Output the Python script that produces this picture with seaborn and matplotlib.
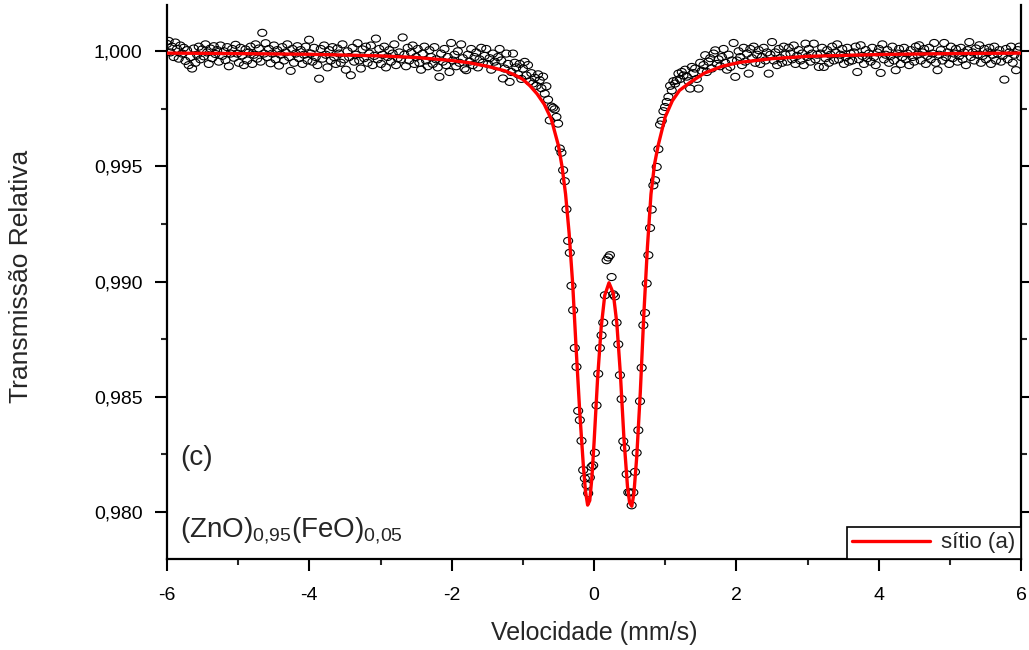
import numpy as np
import matplotlib
matplotlib.use("Agg")
import matplotlib.pyplot as plt
from matplotlib.ticker import MultipleLocator, FuncFormatter
from matplotlib.path import Path
from matplotlib.transforms import Affine2D
import seaborn as sns

# Relative transmission per channel (512 channels, -6 .. 6 mm/s)
wing_left = [
    1.00032, 1.00045, 0.99995, 1.00020, 0.99975, 1.00038, 1.00010, 0.99968, 1.00025, 0.99990,
    1.00015, 0.99958, 1.00005, 0.99940, 0.99975, 0.99925, 1.00012, 0.99950, 0.99985, 1.00020,
    0.99965, 1.00008, 0.99978, 1.00030, 0.99995, 0.99945, 1.00012, 0.99970, 1.00022, 0.99988,
    1.00005, 0.99955, 1.00025, 0.99980, 1.00000, 0.99962, 1.00018, 0.99935, 0.99990, 1.00010,
    0.99972, 1.00028, 0.99990, 0.99950, 1.00015, 0.99982, 0.99940, 1.00008, 0.99960, 0.99995,
    1.00020, 0.99945, 0.99985, 1.00030, 0.99968, 1.00012, 0.99955, 1.00080, 0.99990, 1.00035,
    0.99975, 1.00010, 0.99948, 0.99990, 1.00025, 0.99965, 1.00005, 0.99938, 0.99985, 1.00018,
    0.99960, 0.99995, 1.00030, 0.99975, 0.99915, 1.00010, 0.99950, 0.99990, 1.00022, 0.99970,
    1.00005, 0.99945, 0.99985, 1.00020, 0.99960, 1.00050, 0.99990, 0.99955, 1.00015, 0.99975,
    0.99940, 0.99881, 1.00010, 0.99968, 1.00025, 0.99985, 0.99930, 1.00005, 0.99960, 1.00018,
    0.99975, 0.99945, 1.00012, 0.99990, 0.99950, 1.00030, 0.99965, 0.99920, 1.00000, 0.99975,
    0.99896, 1.00015, 0.99955, 0.99985, 1.00035, 0.99960, 0.99925, 1.00008, 0.99970, 1.00020,
    0.99950, 0.99990, 1.00025, 0.99940, 0.99980, 1.00055, 0.99965, 1.00010, 0.99945, 0.99985,
    1.00020, 0.99930, 0.99975, 1.00005, 0.99955, 0.99990, 1.00030, 0.99940, 0.99970, 0.99995,
    0.99965, 1.00060, 0.99985, 0.99935, 1.00015, 0.99960, 0.99995, 1.00025, 0.99945, 0.99975,
    1.00010, 0.99950, 0.99920, 0.99990, 1.00020, 0.99960, 0.99935, 1.00005, 0.99975, 0.99945,
    1.00018, 0.99965, 0.99930, 0.99889, 0.99990, 0.99955, 1.00010, 0.99940, 0.99975, 0.99910,
    1.00036, 0.99960, 0.99985, 0.99935, 1.00000, 0.99950, 1.00030, 0.99970, 0.99925, 0.99918,
    0.99985, 0.99955, 1.00010, 0.99940, 0.99975, 0.99995, 0.99930, 0.99965, 1.00015, 0.99950,
    0.99980, 1.00010, 0.99945, 0.99970, 0.99920, 0.99990, 0.99955, 0.99935, 0.99975, 1.00010,
    0.99960, 0.99882, 0.99925, 0.99990, 0.99945, 0.99867, 0.99910, 0.99990, 0.99950, 0.99930,
    0.99900, 0.99945, 0.99880, 0.99925, 0.99954, 0.99895, 0.99940, 0.99870, 0.99905, 0.99860,
    0.99885, 0.99850, 0.99900, 0.99874, 0.99840, 0.99890,
]
absorption = [
    0.99816, 0.99848, 0.99790, 0.99700, 0.99760, 0.99755, 0.99748, 0.99715, 0.99686, 0.99578,
    0.99560, 0.99484, 0.99436, 0.99314, 0.99177, 0.99125, 0.98982, 0.98876, 0.98712, 0.98630,
    0.98439, 0.98399, 0.98309, 0.98182, 0.98146, 0.98117, 0.98081, 0.98150, 0.98196, 0.98203,
    0.98257, 0.98463, 0.98600, 0.98712, 0.98767, 0.98822, 0.98941, 0.99093, 0.99105, 0.99115,
    0.99020, 0.98945, 0.98936, 0.98822, 0.98728, 0.98594, 0.98490, 0.98307, 0.98278, 0.98164,
    0.98085, 0.98085, 0.98029, 0.98085, 0.98174, 0.98257, 0.98355, 0.98481, 0.98626, 0.98811,
    0.98864, 0.98992, 0.99115, 0.99233, 0.99313, 0.99418, 0.99440, 0.99498, 0.99575, 0.99682,
    0.99698, 0.99740, 0.99758, 0.99780, 0.99802, 0.99850, 0.99830, 0.99870, 0.99860, 0.99874,
    0.99903, 0.99880, 0.99910, 0.99895, 0.99920,
]
wing_right = [
    0.99890, 0.99870, 0.99838, 0.99932, 0.99905, 0.99925, 0.99880, 0.99838, 0.99950, 0.99915,
    0.99940, 0.99983, 0.99910, 0.99955, 0.99970, 0.99925, 0.99990, 1.00004, 0.99945, 0.99965,
    0.99935, 0.99975, 1.00010, 0.99950, 0.99920, 0.99985, 0.99932, 0.99960, 1.00036, 0.99889,
    0.99960, 1.00000, 0.99975, 0.99940, 1.00015, 0.99955, 0.99990, 0.99903, 1.00010, 0.99970,
    1.00020, 0.99950, 0.99985, 1.00005, 0.99945, 0.99975, 1.00015, 0.99960, 0.99995, 0.99903,
    0.99985, 1.00040, 0.99960, 0.99995, 0.99940, 1.00010, 0.99970, 0.99950, 1.00020, 0.99985,
    0.99955, 1.00015, 0.99990, 0.99965, 1.00025, 0.99945, 0.99980, 1.00005, 0.99960, 0.99990,
    0.99940, 1.00033, 0.99975, 1.00010, 0.99955, 0.99990, 1.00033, 0.99965, 0.99985, 0.99932,
    0.99990, 1.00015, 0.99932, 0.99970, 1.00005, 0.99950, 0.99985, 1.00020, 0.99960, 0.99995,
    1.00030, 0.99965, 0.99985, 1.00010, 0.99945, 0.99975, 1.00015, 0.99955, 0.99990, 0.99960,
    0.99995, 1.00020, 0.99910, 0.99965, 1.00026, 0.99980, 0.99945, 1.00005, 0.99970, 0.99990,
    0.99955, 1.00015, 0.99975, 0.99940, 0.99995, 1.00010, 0.99906, 1.00030, 0.99965, 0.99985,
    1.00005, 0.99950, 0.99980, 1.00020, 0.99960, 0.99918, 0.99990, 1.00010, 0.99945, 0.99975,
    1.00015, 0.99965, 0.99990, 0.99940, 1.00005, 0.99975, 0.99955, 1.00020, 0.99985, 1.00026,
    0.99960, 0.99995, 1.00010, 0.99945, 0.99980, 1.00015, 0.99965, 0.99990, 1.00036, 0.99950,
    0.99918, 0.99985, 1.00005, 0.99960, 1.00036, 0.99975, 0.99995, 0.99945, 1.00020, 0.99970,
    0.99990, 1.00010, 0.99955, 0.99980, 1.00015, 0.99965, 0.99995, 0.99940, 1.00005, 1.00040,
    0.99975, 0.99995, 0.99960, 1.00012, 0.99985, 1.00026, 0.99950, 0.99980, 1.00010, 0.99965,
    0.99995, 1.00015, 0.99945, 0.99985, 1.00020, 0.99960, 0.99990, 1.00005, 0.99955, 0.99980,
    0.99877, 1.00010, 0.99965, 0.99995, 1.00020, 0.99950, 0.99985, 0.99918, 1.00005, 1.00020,
    0.99975,
]

# Fitted quadrupole doublet, site (a)
fit_velocity = [
    -6.0, -5.0, -4.0, -3.0, -2.5, -2.0, -1.75, -1.5, -1.25, -1.1, -1.0, -0.9, -0.8, -0.7,
    -0.6, -0.5, -0.45, -0.4, -0.35, -0.3, -0.25, -0.2, -0.15, -0.12, -0.09, -0.06, -0.03,
    0.0, 0.05, 0.1, 0.15, 0.21, 0.27, 0.32, 0.37, 0.42, 0.47, 0.5, 0.53, 0.56, 0.6, 0.65,
    0.7, 0.75, 0.8, 0.85, 0.9, 1.0, 1.1, 1.2, 1.35, 1.55, 1.8, 2.05, 2.5, 3.0, 4.0, 5.0, 6.0,
]
fit_transmission = [
    0.99992, 0.99990, 0.99987, 0.99980, 0.99973, 0.99960, 0.99950, 0.99935, 0.99915, 0.99895,
    0.99878, 0.99850, 0.99815, 0.99770, 0.99705, 0.99590, 0.99500, 0.99380, 0.99210, 0.98990,
    0.98700, 0.98430, 0.98200, 0.98090, 0.98030, 0.98050, 0.98150, 0.98300, 0.98580, 0.98800,
    0.98940, 0.98995, 0.98950, 0.98820, 0.98600, 0.98320, 0.98110, 0.98040, 0.98025, 0.98080,
    0.98240, 0.98520, 0.98860, 0.99150, 0.99380, 0.99510, 0.99590, 0.99715, 0.99785, 0.99830,
    0.99865, 0.99905, 0.99935, 0.99952, 0.99968, 0.99978, 0.99986, 0.99990, 0.99992,
]

x_ticks = [-6, -4, -2, 0, 2, 4, 6]
y_ticks = [0.980, 0.985, 0.990, 0.995, 1.000]

sns.set_style("ticks")
plt.rcParams["font.family"] = ["Liberation Sans", "DejaVu Sans"]
plt.rcParams["mathtext.fontset"] = "custom"
plt.rcParams["mathtext.rm"] = "Liberation Sans"
plt.rcParams["mathtext.it"] = "Liberation Sans:italic"

transmission = np.array(wing_left + absorption + wing_right)
velocity = np.linspace(-6.0, 6.0, len(transmission))

# open marker, slightly wider than tall
oval = Path.unit_circle().transformed(Affine2D().scale(1.28, 1.0))

fig = plt.figure(figsize=(10.29, 6.5), dpi=100)
ax = fig.add_axes([0.1623, 0.14, 0.83, 0.852])

sns.scatterplot(x=velocity, y=transmission, ax=ax, marker=oval, s=42,
                facecolor="none", edgecolor="black", linewidth=0.8, zorder=2)
sns.lineplot(x=fit_velocity, y=fit_transmission, ax=ax, color="#ff0000",
             linewidth=2.4, sort=False, estimator=None, label="sítio (a)", zorder=3)

ax.set_xlim(-6, 6)
ax.set_ylim(0.97796, 1.002)
ax.set_xticks(x_ticks)
ax.set_yticks(y_ticks)
ax.xaxis.set_minor_locator(MultipleLocator(1))
ax.yaxis.set_minor_locator(MultipleLocator(0.0025))
ax.xaxis.set_major_formatter(FuncFormatter(lambda v, p: f"{v:.0f}"))
ax.yaxis.set_major_formatter(FuncFormatter(lambda v, p: f"{v:.3f}".replace(".", ",")))

ax.spines["top"].set_visible(False)
for side in ("left", "right", "bottom"):
    ax.spines[side].set_linewidth(1.6)
    ax.spines[side].set_color("black")

ax.tick_params(axis="both", which="major", direction="out", length=8.5, width=1.5,
               labelsize=14, colors="black")
ax.tick_params(axis="both", which="minor", direction="out", length=4.3, width=1.5)
ax.tick_params(axis="y", which="both", right=True, pad=9)
ax.tick_params(axis="x", which="major", pad=12)

ax.set_xlabel("Velocidade (mm/s)", fontsize=18)
ax.set_ylabel("Transmissão Relativa", fontsize=19)
ax.xaxis.set_label_coords(0.5, -0.112)
ax.yaxis.set_label_coords(-0.157, 0.51)

ax.text(0.015, 0.182, "(c)", transform=ax.transAxes, fontsize=20,
        ha="left", va="center")
ax.text(0.015, 0.052, r"(ZnO)$_{0{,}95}$(FeO)$_{0{,}05}$", transform=ax.transAxes,
        fontsize=20, ha="left", va="center")

leg = ax.legend(loc="lower right", borderaxespad=0, frameon=True, fancybox=False,
                edgecolor="black", framealpha=1, fontsize=16, handlelength=3.5,
                handletextpad=0.5, borderpad=0.25)
leg.get_frame().set_linewidth(1.2)

fig.savefig("out.png", dpi=100)
